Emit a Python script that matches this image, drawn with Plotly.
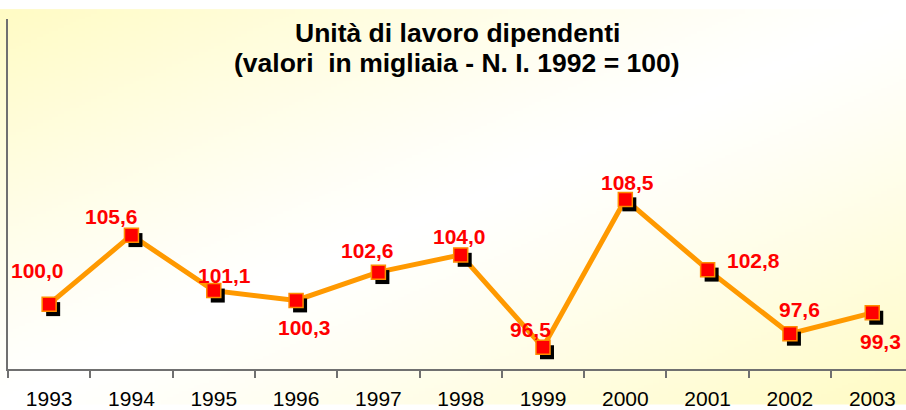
import zlib, struct, base64
import plotly.graph_objects as go

# ---- data ----
years = ["1993", "1994", "1995", "1996", "1997", "1998", "1999", "2000", "2001", "2002", "2003"]
values = [100.0, 105.6, 101.1, 100.3, 102.6, 104.0, 96.5, 108.5, 102.8, 97.6, 99.3]
labels = ["100,0", "105,6", "101,1", "100,3", "102,6", "104,0", "96,5", "108,5", "102,8", "97,6", "99,3"]
title_lines = ["Unità di lavoro dipendenti", "(valori\u00a0 in migliaia - N. I. 1992 = 100)"]

# ---- styling ----
label_shift = [(-12, 34), (-20, 19), (11, 15), (8, -27), (-11, 22), (-1, 18),
               (-13, 18), (2, 17), (46, 9), (10, 24), (8, -29)]
title_y_px = [33, 64]
W, H = 906, 410
ML, MR, MT, MB = 8, 0, 19, 36
PW, PH = W - ML - MR, H - MT - MB
X_RANGE = [-0.5, 10.41]
Y_RANGE = [94.74, 123.14]
px_per_x = PW / (X_RANGE[1] - X_RANGE[0])
px_per_y = PH / (Y_RANGE[1] - Y_RANGE[0])
SHADOW_DX, SHADOW_DY = 4 / px_per_x, -5 / px_per_y
FONT = "Liberation Sans, Arial"


def gradient_png(w, h):
    yellow = (255, 251, 196)
    rows = []
    for j in range(h):
        v = j / (h - 1)
        row = bytearray(b"\x00")
        for i in range(w):
            u = i / (w - 1)
            z = min(1.0, abs(u + v - 1.0))
            t = z ** 1.2
            row += bytes(int(round(255 + (c - 255) * t)) for c in yellow)
        rows.append(bytes(row))
    raw = b"".join(rows)

    def chunk(t, d):
        return struct.pack(">I", len(d)) + t + d + struct.pack(">I", zlib.crc32(t + d) & 0xFFFFFFFF)

    png = (b"\x89PNG\r\n\x1a\n" + chunk(b"IHDR", struct.pack(">IIBBBBB", w, h, 8, 2, 0, 0, 0))
           + chunk(b"IDAT", zlib.compress(raw, 9)) + chunk(b"IEND", b""))
    return "data:image/png;base64," + base64.b64encode(png).decode()


xs = list(range(len(years)))

fig = go.Figure()
fig.add_trace(go.Scatter(x=xs, y=values, mode="lines",
                         line=dict(color="#FF9900", width=5), hoverinfo="skip"))
fig.add_trace(go.Scatter(x=[x + SHADOW_DX for x in xs], y=[v + SHADOW_DY for v in values],
                         mode="markers", marker=dict(symbol="square", size=14, color="black"),
                         hoverinfo="skip"))
fig.add_trace(go.Scatter(x=xs, y=values, mode="markers",
                         marker=dict(symbol="square", size=14, color="#FF0000",
                                     line=dict(color="#FF8C00", width=1.5))))

for x, v, lab, (dx, dy) in zip(xs, values, labels, label_shift):
    fig.add_annotation(x=x, y=v, text=lab, showarrow=False, xshift=dx, yshift=dy,
                       font=dict(family=FONT, size=21, color="#FF0000", weight="bold"))

for line, ypx in zip(title_lines, title_y_px):
    fig.add_annotation(text=line, showarrow=False, xref="paper", yref="paper",
                       x=(457 - ML) / PW, xanchor="center",
                       y=1 + (MT - ypx) / PH, yanchor="middle",
                       font=dict(family=FONT, size=26.5, color="black", weight="bold"))

fig.update_layout(
    width=W, height=H,
    margin=dict(l=ML, r=MR, t=MT, b=MB),
    paper_bgcolor="white",
    plot_bgcolor="rgba(0,0,0,0)",
    showlegend=False,
    images=[dict(source=gradient_png(302, 134), xref="paper", yref="paper",
                 x=-ML / PW, y=1 + (MT - 9) / PH, sizex=W / PW, sizey=(H - 9) / PH,
                 xanchor="left", yanchor="top", sizing="stretch", layer="below")],
    xaxis=dict(range=X_RANGE, tickmode="array", tickvals=xs, ticktext=years,
               ticks="", showgrid=False, zeroline=False, ticklabelstandoff=10,
               showline=True, linecolor="#707070", linewidth=1.5,
               tickfont=dict(family=FONT, size=21, color="black"),
               minor=dict(tickmode="linear", tick0=-0.5, dtick=1, ticks="outside",
                          ticklen=7, tickcolor="#707070", tickwidth=1.5, showgrid=False)),
    yaxis=dict(range=Y_RANGE, showticklabels=False, ticks="", showgrid=False, zeroline=False,
               showline=True, linecolor="#707070", linewidth=1.5),
)

fig.write_html("out.html", config={"displayModeBar": False},
               post_script="document.body.style.margin='0';document.body.style.overflow='hidden';")
